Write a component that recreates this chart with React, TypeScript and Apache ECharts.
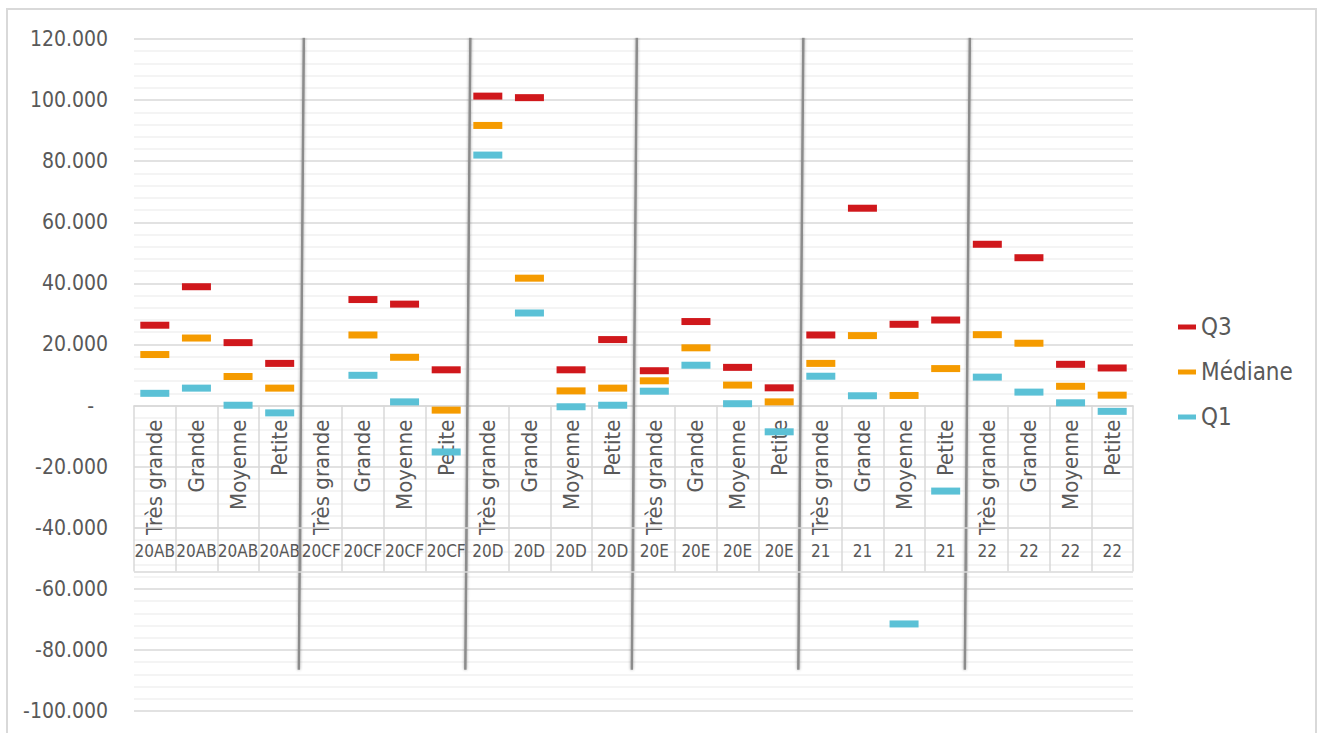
import React, { useEffect, useRef } from "react";
import * as echarts from "echarts";

const subLabels = [
  "Très grande", "Grande", "Moyenne", "Petite",
  "Très grande", "Grande", "Moyenne", "Petite",
  "Très grande", "Grande", "Moyenne", "Petite",
  "Très grande", "Grande", "Moyenne", "Petite",
  "Très grande", "Grande", "Moyenne", "Petite",
  "Très grande", "Grande", "Moyenne", "Petite",
];
const groupLabels = [
  "20AB", "20AB", "20AB", "20AB",
  "20CF", "20CF", "20CF", "20CF",
  "20D", "20D", "20D", "20D",
  "20E", "20E", "20E", "20E",
  "21", "21", "21", "21",
  "22", "22", "22", "22",
];
const q3 = [
  26300, 38900, 20600, 13800,
  null, 34700, 33200, 11700,
  101300, 100800, 11700, 21600,
  11400, 27500, 12500, 5800,
  23100, 64600, 26600, 28000,
  52800, 48400, 13500, 12300,
];
const mediane = [
  16700, 22100, 9500, 5700,
  null, 23100, 15800, -1500,
  91700, 41700, 4800, 5700,
  8100, 18900, 6700, 1200,
  13800, 22900, 3300, 12100,
  23200, 20400, 6300, 3400,
];
const q1 = [
  4000, 5700, 100, -2400,
  null, 9900, 1200, -15200,
  82000, 30300, -400, 100,
  4700, 13200, 600, -8600,
  9600, 3200, -71500, -28000,
  9300, 4400, 900, -1900,
];
const groupBoundaries = [4, 8, 12, 16, 20];
const separatorTop = 120600;
const separatorBottom = -86500;
const tableLines = [-40000, -54400];

const Y_MIN = -100000;
const Y_MAX = 120000;
const GRID_TOP = 39;
const GRID_BOTTOM = 22;
const CHART_H = 733;

const FONT = "'DejaVu Sans Condensed', 'Liberation Sans Narrow', 'Arial Narrow', sans-serif";
const TEXT = "#595959";

function fmt(v: number): string {
  if (v === 0) return "{z|-}";
  const s = Math.abs(v).toString().replace(/\B(?=(\d{3})+(?!\d))/g, ".");
  return (v < 0 ? "-" : "") + s;
}

export default function App() {
  const ref = useRef<HTMLDivElement>(null);
  useEffect(() => {
    if (!ref.current) return;
    const chart = echarts.init(ref.current, undefined, { renderer: "svg" });
    // pixel distance from the grid bottom up to the zero value
    const plotH = CHART_H - GRID_TOP - GRID_BOTTOM;
    const zeroOffset = -(plotH * (0 - Y_MIN)) / (Y_MAX - Y_MIN);
    const sepData: any[] = [];
    groupBoundaries.forEach((b, i) => {
      if (i > 0) sepData.push(["-", "-"]);
      sepData.push([b + 0.08, separatorTop]);
      sepData.push([b - 0.04, separatorBottom]);
    });
    const markSeries = (name: string, data: any[], color: string, withTable = false) => ({
      name,
      type: "scatter",
      xAxisIndex: 0,
      yAxisIndex: 0,
      symbol: "rect",
      symbolSize: [29, 7],
      itemStyle: { color, opacity: 1 },
      data,
      z: 5,
      markLine: withTable
        ? {
            silent: true,
            symbol: "none",
            label: { show: false },
            lineStyle: { color: "#d9d9d9", width: 1.5, type: "solid" },
            data: tableLines.map((y) => ({ yAxis: y })),
          }
        : undefined,
    });
    chart.setOption({
      animation: false,
      backgroundColor: "#ffffff",
      textStyle: { fontFamily: FONT },
      graphic: [
        {
          type: "rect",
          shape: { x: 7, y: 9, width: 1309, height: 760 },
          style: { fill: "none", stroke: "#d9d9d9", lineWidth: 2 },
          silent: true,
          z: -10,
        },
      ],
      grid: {
        left: 134,
        right: 189,
        top: GRID_TOP,
        bottom: GRID_BOTTOM,
        containLabel: false,
        outerBoundsMode: "none",
      },
      legend: {
        data: ["Q3", "Médiane", "Q1"],
        orient: "vertical",
        left: 1173,
        top: 310,
        itemWidth: 18,
        itemHeight: 5,
        itemGap: 21,
        icon: "rect",
        textStyle: { fontSize: 24, color: TEXT, fontFamily: FONT },
      },
      xAxis: [
        {
          type: "category",
          data: subLabels,
          position: "bottom",
          offset: zeroOffset,
          boundaryGap: true,
          axisLine: { onZero: false, lineStyle: { color: "#d9d9d9", width: 1.5 } },
          axisTick: { show: true, interval: 0, length: 166, lineStyle: { color: "#d9d9d9", width: 1.5 } },
          axisLabel: { interval: 0, rotate: 90, margin: 14, fontSize: 22, color: TEXT, fontFamily: FONT },
          splitLine: { show: false },
        },
        {
          type: "category",
          data: groupLabels,
          position: "bottom",
          offset: zeroOffset,
          boundaryGap: true,
          axisLine: { show: false, onZero: false },
          axisTick: { show: false },
          axisLabel: { interval: 0, margin: 137, fontSize: 17, color: TEXT, fontFamily: FONT },
          splitLine: { show: false },
        },
        {
          type: "value",
          min: 0,
          max: 24,
          show: false,
          axisLine: { onZero: false },
          splitLine: { show: false },
        },
      ],
      yAxis: {
        type: "value",
        min: Y_MIN,
        max: Y_MAX,
        interval: 20000,
        axisLine: { show: false, onZero: false },
        axisTick: { show: false },
        minorTick: { show: false, splitNumber: 5 },
        minorSplitLine: { show: true, lineStyle: { color: "#f0f0f0", width: 1.5 } },
        splitLine: { show: true, lineStyle: { color: "#d9d9d9", width: 1.5 } },
        axisLabel: {
          margin: 26,
          fontSize: 21,
          color: TEXT,
          fontFamily: FONT,
          formatter: fmt,
          rich: { z: { fontSize: 21, color: TEXT, fontFamily: FONT, padding: [0, 14, 0, 0] } },
        },
      },
      series: [
        markSeries("Q3", q3, "#d0181c", true),
        markSeries("Médiane", mediane, "#f59b00"),
        markSeries("Q1", q1, "#5bc1d6"),
        {
          name: "sep",
          type: "line",
          xAxisIndex: 2,
          yAxisIndex: 0,
          data: sepData,
          symbol: "none",
          connectNulls: false,
          silent: true,
          z: 4,
          lineStyle: {
            color: "#8c8c8c",
            width: 2.5,
            shadowColor: "rgba(0,0,0,0.35)",
            shadowBlur: 3,
          },
        },
      ],
    });
    return () => chart.dispose();
  }, []);
  return (
    <div
      ref={ref}
      style={{ position: "fixed", left: 0, top: 0, width: 1322, height: 733 }}
    />
  );
}
